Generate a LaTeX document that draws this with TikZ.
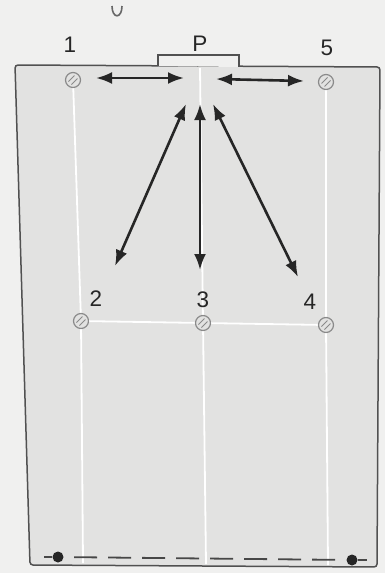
\documentclass[tikz,border=0pt]{standalone}
\usepackage{fontspec}
\setmainfont{Liberation Sans}
\usetikzlibrary{arrows.meta}
\definecolor{paper}{HTML}{F0F0EF}
\definecolor{field}{HTML}{E2E2E1}
\definecolor{ink}{HTML}{262626}
\definecolor{ballc}{HTML}{8A8A8A}
\tikzset{
  lbl/.style={font=\fontsize{22.5}{25}\selectfont, text=ink, inner sep=0pt},
  ball/.style={circle, draw=ballc, line width=1.2pt, minimum size=15pt, inner sep=0pt, fill=field,
    path picture={
      \draw[ballc, line width=1pt] ([xshift=-4.5pt,yshift=-1.5pt]path picture bounding box.center) -- ([xshift=1.5pt,yshift=4.5pt]path picture bounding box.center);
      \draw[ballc, line width=1pt] ([xshift=-1.5pt,yshift=-4.5pt]path picture bounding box.center) -- ([xshift=4.5pt,yshift=1.5pt]path picture bounding box.center);}},
  wline/.style={white, line width=1.8pt},
  move/.style={ink, line width=2.6pt, {Latex[length=16pt,width=12pt]}-{Latex[length=16pt,width=12pt]}},
  dot/.style={circle, fill=ink, minimum size=11pt, inner sep=0pt},
}
\begin{document}
\begin{tikzpicture}[x=1pt,y=-1pt]
\useasboundingbox (0,0) rectangle (385,573);
\fill[paper] (0,0) rectangle (385,573);
% field
\filldraw[fill=field, draw=ink!80, line width=1.5pt, rounded corners=3pt]
  (15,65) -- (380,67) -- (377,567) -- (30,565) -- cycle;
% goal box
\draw[ink!80, line width=1.3pt, fill=paper] (158,66) -- (158,55) -- (239,55) -- (239,67);
% fragment at top
\draw[ink!70, line width=1.6pt] (112,6) .. controls (112,19) and (122,19) .. (122,6);
% white-line end points
\coordinate (t3) at (200,68);
\coordinate (e1) at (83,563);
\coordinate (e3) at (206,564);
\coordinate (e4) at (328,565);
\coordinate (c1) at (73,80);
\coordinate (c5) at (326,82);
\coordinate (c2) at (81,321);
\coordinate (c3) at (203,323);
\coordinate (c4) at (326,325);
\draw[wline] (c1) -- (c2) -- (e1);
\draw[wline] (c5) -- (c4) -- (e4);
\draw[wline] (t3) -- (c3) -- (e3);
\draw[wline] (c2) -- (c3) -- (c4);
% balls
\node[ball] (b1) at (c1) {};
\node[ball] (b5) at (c5) {};
\node[ball] (b2) at (c2) {};
\node[ball] (b3) at (c3) {};
\node[ball] (b4) at (c4) {};
% labels
\node[lbl] (l1) at (70,45) {1};
\node[lbl] (lP) at (200,44) {P};
\node[lbl] (l5) at (327,48) {5};
\node[lbl] (l2) at (96,299) {2};
\node[lbl] (l3) at (203,300) {3};
\node[lbl] (l4) at (310,302) {4};
% arrow end points
\coordinate (h1a) at (96,78);
\coordinate (h1b) at (184,78);
\coordinate (h2a) at (216,79);
\coordinate (h2b) at (304,81);
\coordinate (dL) at (115,266);
\coordinate (dLt) at (186,104);
\coordinate (dC) at (200,270);
\coordinate (dCt) at (200,104);
\coordinate (dR) at (298,277);
\coordinate (dRt) at (213,104);
\draw[move] (h1a) -- (h1b);
\draw[move] (h2a) -- (h2b);
\draw[move] (dL) -- (dLt);
\draw[move] (dC) -- (dCt);
\draw[move] (dR) -- (dRt);
% bottom dashed line with dots
\node[dot] (p1) at (58,557) {};
\node[dot] (p2) at (352,560) {};
\draw[ink!85, line width=1.8pt, dash pattern=on 23pt off 11pt, dash phase=23.5pt, shorten >=6pt] (p1) -- (p2);
\draw[ink!85, line width=1.4pt] (p1.west) -- ++(-8,0);
\draw[ink!85, line width=1.4pt] (p2.east) -- ++(9,0);
\end{tikzpicture}
\end{document}
